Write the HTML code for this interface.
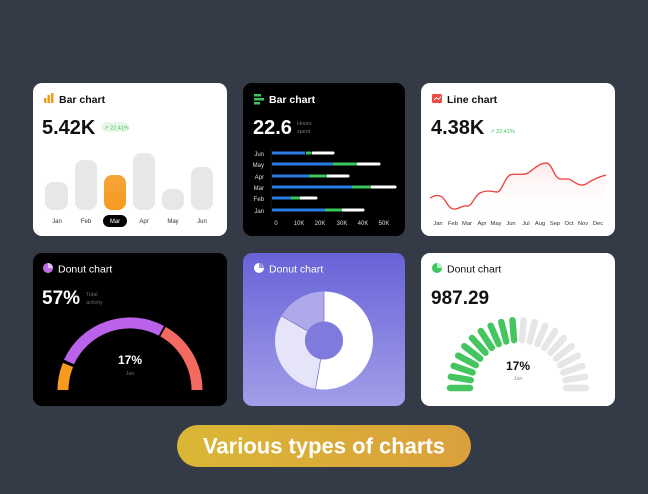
<!DOCTYPE html>
<html><head><meta charset="utf-8"><style>
body{margin:0;width:648px;height:489px;background:#343b46;font-family:"Liberation Sans",sans-serif;overflow:hidden}
</style></head><body>
<svg width="648" height="489" viewBox="0 0 648 489" xmlns="http://www.w3.org/2000/svg" font-family="Liberation Sans, sans-serif">
<defs>
<linearGradient id="pg" x1="0" y1="0" x2="0" y2="1"><stop offset="0" stop-color="#6763d8"/><stop offset="1" stop-color="#a29ee8"/></linearGradient>
<linearGradient id="gold" x1="0" y1="0" x2="1" y2="0"><stop offset="0" stop-color="#d9b735"/><stop offset="1" stop-color="#dba03c"/></linearGradient>
<linearGradient id="org" x1="0" y1="0" x2="0" y2="1"><stop offset="0" stop-color="#f6a43a"/><stop offset="1" stop-color="#f79a1e"/></linearGradient>
<linearGradient id="lf" x1="0" y1="0" x2="0" y2="1"><stop offset="0" stop-color="#fde7e7"/><stop offset="1" stop-color="#fff" stop-opacity="0"/></linearGradient>
</defs>
<rect x="33" y="83" width="194" height="153" rx="9" fill="#fff"/>
<rect x="243" y="83" width="162" height="153" rx="9" fill="#000"/>
<rect x="421" y="83" width="194" height="153" rx="9" fill="#fff"/>
<rect x="33" y="253" width="194" height="153" rx="9" fill="#000"/>
<rect x="243" y="253" width="162" height="153" rx="9" fill="url(#pg)"/>
<rect x="421" y="253" width="194" height="153" rx="9" fill="#fff"/>

<!-- card1 -->
<rect x="44" y="98" width="2.5" height="5" fill="#f79a1e"/><rect x="47.5" y="95" width="2.5" height="8" fill="#f79a1e"/><rect x="51" y="93" width="2.5" height="10" fill="#f79a1e"/>
<text x="59" y="103" font-size="10.5" font-weight="bold" fill="#111">Bar chart</text>
<text x="42" y="134" font-size="20" font-weight="bold" fill="#111">5.42K</text>
<rect x="101" y="122" width="28" height="10" rx="5" fill="#e6f7ea"/>
<text x="104" y="129.5" font-size="5.5" fill="#3bbf5a">↗ 22.41%</text>
<rect x="45" y="182" width="23" height="28" rx="8" fill="#e7e7e7"/>
<rect x="75" y="160" width="22" height="50" rx="8" fill="#e7e7e7"/>
<rect x="104" y="175" width="22" height="35" rx="8" fill="url(#org)"/>
<rect x="133" y="153" width="22" height="57" rx="8" fill="#e7e7e7"/>
<rect x="162" y="189" width="22" height="21" rx="8" fill="#e7e7e7"/>
<rect x="191" y="167" width="22" height="43" rx="8" fill="#e7e7e7"/>
<rect x="103" y="215" width="24" height="12" rx="6" fill="#000"/>
<g font-size="6" text-anchor="middle" fill="#333"><text x="57" y="223">Jan</text><text x="86" y="223">Feb</text><text x="115" y="223" fill="#fff">Mar</text><text x="144" y="223">Apr</text><text x="173" y="223">May</text><text x="202" y="223">Jun</text></g>

<!-- card2 -->
<rect x="254" y="94" width="7" height="2.5" fill="#3cc65e"/><rect x="254" y="98" width="10" height="2.5" fill="#3cc65e"/><rect x="254" y="102" width="6" height="2.5" fill="#3cc65e"/>
<text x="269" y="103" font-size="10.5" font-weight="bold" fill="#fff">Bar chart</text>
<text x="253" y="134" font-size="20" font-weight="bold" fill="#fff">22.6</text>
<text x="297" y="125" font-size="5.5" fill="#777">Hours</text><text x="297" y="133" font-size="5.5" fill="#777">spent</text>
<line x1="271" y1="148" x2="271" y2="215" stroke="#333" stroke-width="0.5"/>
<g font-size="6" text-anchor="end" fill="#ddd"><text x="264" y="156">Jun</text><text x="264" y="167">May</text><text x="264" y="179">Apr</text><text x="264" y="190">Mar</text><text x="264" y="201">Feb</text><text x="264" y="213">Jan</text></g>
<g stroke-width="3" stroke-linecap="round">
<line x1="313" y1="153" x2="333" y2="153" stroke="#fff"/><line x1="306" y1="153" x2="311" y2="153" stroke="#3cc65e" stroke-linecap="butt"/><line x1="272" y1="153" x2="305" y2="153" stroke="#2b7de4" stroke-linecap="butt"/>
<line x1="358" y1="164" x2="379" y2="164" stroke="#fff"/><line x1="333" y1="164" x2="357" y2="164" stroke="#3cc65e" stroke-linecap="butt"/><line x1="272" y1="164" x2="333" y2="164" stroke="#2b7de4" stroke-linecap="butt"/>
<line x1="327" y1="176" x2="348" y2="176" stroke="#fff"/><line x1="309" y1="176" x2="327" y2="176" stroke="#3cc65e" stroke-linecap="butt"/><line x1="272" y1="176" x2="309" y2="176" stroke="#2b7de4" stroke-linecap="butt"/>
<line x1="371" y1="187" x2="395" y2="187" stroke="#fff"/><line x1="352" y1="187" x2="371" y2="187" stroke="#3cc65e" stroke-linecap="butt"/><line x1="272" y1="187" x2="352" y2="187" stroke="#2b7de4" stroke-linecap="butt"/>
<line x1="300" y1="198" x2="316" y2="198" stroke="#fff"/><line x1="291" y1="198" x2="300" y2="198" stroke="#3cc65e" stroke-linecap="butt"/><line x1="272" y1="198" x2="291" y2="198" stroke="#2b7de4" stroke-linecap="butt"/>
<line x1="342" y1="210" x2="363" y2="210" stroke="#fff"/><line x1="325" y1="210" x2="342" y2="210" stroke="#3cc65e" stroke-linecap="butt"/><line x1="272" y1="210" x2="325" y2="210" stroke="#2b7de4" stroke-linecap="butt"/>
</g>
<g font-size="6" text-anchor="middle" fill="#ddd"><text x="276" y="225">0</text><text x="299" y="225">10K</text><text x="320" y="225">20K</text><text x="342" y="225">30K</text><text x="363" y="225">40K</text><text x="384" y="225">50K</text></g>

<!-- card3 -->
<rect x="432" y="94" width="10" height="9" rx="1.5" fill="#ef4b45"/><path d="M434 100 L436.5 97.5 L438.5 99.5 L441 96.5" stroke="#fff" stroke-width="0.9" fill="none"/>
<text x="447" y="103" font-size="10.5" font-weight="bold" fill="#111">Line chart</text>
<text x="431" y="134" font-size="20" font-weight="bold" fill="#111">4.38K</text>
<text x="490" y="133" font-size="5.5" fill="#3bbf5a">↗ 22.41%</text>
<path d="M430 198 C434 196 438 194 442 197 C446 200 448 208 453 209 C458 210 462 205 467 206 C472 207 474 196 480 193 C486 190 490 191 496 192 C502 193 504 178 510 175 C516 173 522 176 528 173 C533 170 538 164 545 163 C552 162 553 175 558 178 C562 181 566 177 571 180 C576 183 580 187 586 184 C592 180 598 177 606 175 L606 215 L430 215 Z" fill="url(#lf)"/>
<path d="M430 198 C434 196 438 194 442 197 C446 200 448 208 453 209 C458 210 462 205 467 206 C472 207 474 196 480 193 C486 190 490 191 496 192 C502 193 504 178 510 175 C516 173 522 176 528 173 C533 170 538 164 545 163 C552 162 553 175 558 178 C562 181 566 177 571 180 C576 183 580 187 586 184 C592 180 598 177 606 175" fill="none" stroke="#e8403c" stroke-width="1.3"/>
<g font-size="5.8" text-anchor="middle" fill="#333"><text x="438" y="225">Jan</text><text x="453" y="225">Feb</text><text x="467" y="225">Mar</text><text x="482" y="225">Apr</text><text x="496" y="225">May</text><text x="511" y="225">Jun</text><text x="526" y="225">Jul</text><text x="540" y="225">Aug</text><text x="555" y="225">Sep</text><text x="569" y="225">Oct</text><text x="583" y="225">Nov</text><text x="598" y="225">Dec</text></g>

<!-- card4 -->
<circle cx="48" cy="268" r="5" fill="#c06be8"/><path d="M48 268 L48 263 A5 5 0 0 1 53 268 Z" fill="#e5c2f7"/>
<text x="58" y="272.5" font-size="10.5" fill="#fff">Donut chart</text>
<text x="42" y="304" font-size="19" font-weight="bold" fill="#fff">57%</text>
<text x="86" y="296" font-size="5.5" fill="#666">Total</text><text x="86" y="304" font-size="5.5" fill="#666">activity</text>
<g fill="none" stroke-width="11">
<path d="M63 390 A67 67 0 0 1 68 364.9" stroke="#f79a1e"/>
<path d="M69 362 A67 67 0 0 1 161.4 330.8" stroke="#bb62ea"/>
<path d="M163 331.6 A67 67 0 0 1 197 390" stroke="#f56a60"/>
</g>
<text x="130" y="364" font-size="12" font-weight="bold" text-anchor="middle" fill="#fff">17%</text>
<text x="130" y="375" font-size="5.5" text-anchor="middle" fill="#666">Jan</text>

<!-- card5 -->
<circle cx="259" cy="268" r="5" fill="#fff"/><path d="M259 268 L259 263 A5 5 0 0 1 264 268 Z" fill="#9a96e3"/>
<text x="269" y="272.5" font-size="10.5" fill="#fff">Donut chart</text>
<g transform="rotate(-90 324 340.5)" fill="none" stroke-width="30">
<circle cx="324" cy="340.5" r="34" stroke="#fff" stroke-dasharray="112.7 400"/>
<circle cx="324" cy="340.5" r="34" stroke="#e6e4f8" stroke-dasharray="0 112.7 65.3 400"/>
<circle cx="324" cy="340.5" r="34" stroke="#aeaae9" stroke-dasharray="0 178 35.6 400"/>
</g>
<g stroke="#7f7bdc" stroke-width="0.8">
<line x1="324" y1="321.5" x2="324" y2="291.5"/>
<line x1="320.7" y1="359.2" x2="315.5" y2="388.8"/>
<line x1="307.5" y1="331" x2="281.6" y2="316"/>
</g>
<circle cx="324" cy="340.5" r="19" fill="#7f7bdc"/>

<!-- card6 -->
<circle cx="437" cy="268" r="5" fill="#3cc65e"/><path d="M437 268 L437 263 A5 5 0 0 1 442 268 Z" fill="#b6ecc4"/>
<text x="447" y="272.5" font-size="10.5" fill="#111">Donut chart</text>
<text x="431" y="304" font-size="19" font-weight="bold" fill="#111">987.29</text>
<g transform="translate(518 388)" stroke-width="6.5" stroke-linecap="round">
<g stroke="#45c560">
<line x1="-68" y1="0" x2="-48" y2="0" transform="rotate(0)"/><line x1="-68" y1="0" x2="-48" y2="0" transform="rotate(9.47)"/><line x1="-68" y1="0" x2="-48" y2="0" transform="rotate(18.95)"/><line x1="-68" y1="0" x2="-48" y2="0" transform="rotate(28.42)"/><line x1="-68" y1="0" x2="-48" y2="0" transform="rotate(37.9)"/><line x1="-68" y1="0" x2="-48" y2="0" transform="rotate(47.37)"/><line x1="-68" y1="0" x2="-48" y2="0" transform="rotate(56.84)"/><line x1="-68" y1="0" x2="-48" y2="0" transform="rotate(66.3)"/><line x1="-68" y1="0" x2="-48" y2="0" transform="rotate(75.8)"/><line x1="-68" y1="0" x2="-48" y2="0" transform="rotate(85.3)"/>
</g>
<g stroke="#e6e6e6">
<line x1="-68" y1="0" x2="-48" y2="0" transform="rotate(94.7)"/><line x1="-68" y1="0" x2="-48" y2="0" transform="rotate(104.2)"/><line x1="-68" y1="0" x2="-48" y2="0" transform="rotate(113.7)"/><line x1="-68" y1="0" x2="-48" y2="0" transform="rotate(123.2)"/><line x1="-68" y1="0" x2="-48" y2="0" transform="rotate(132.6)"/><line x1="-68" y1="0" x2="-48" y2="0" transform="rotate(142.1)"/><line x1="-68" y1="0" x2="-48" y2="0" transform="rotate(151.6)"/><line x1="-68" y1="0" x2="-48" y2="0" transform="rotate(161.1)"/><line x1="-68" y1="0" x2="-48" y2="0" transform="rotate(170.5)"/><line x1="-68" y1="0" x2="-48" y2="0" transform="rotate(180)"/>
</g>
</g>
<text x="518" y="370" font-size="12" font-weight="bold" text-anchor="middle" fill="#111">17%</text>
<text x="518" y="380" font-size="5.5" text-anchor="middle" fill="#999">Jan</text>

<rect x="177" y="425" width="294" height="42" rx="21" fill="url(#gold)"/>
<text x="324" y="453.5" font-size="22" font-weight="bold" text-anchor="middle" fill="#fff">Various types of charts</text>
</svg>
</body></html>
